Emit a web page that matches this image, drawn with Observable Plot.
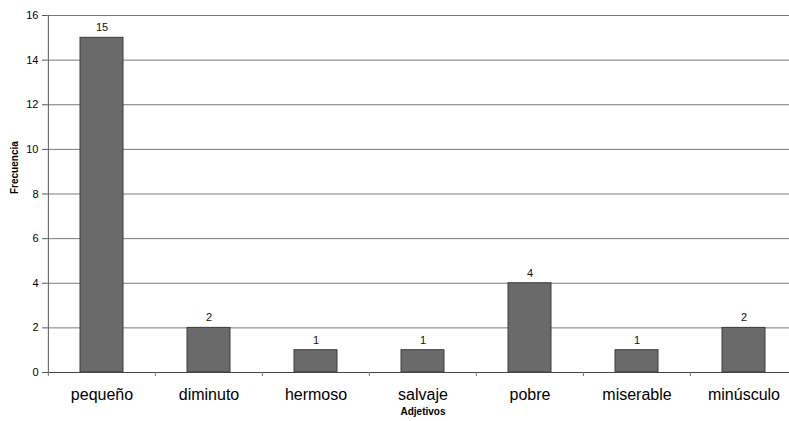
<!DOCTYPE html>
<html>
<head>
<meta charset="utf-8">
<script src="https://cdn.jsdelivr.net/npm/d3@7"></script>
<script src="https://cdn.jsdelivr.net/npm/@observablehq/plot@0.6"></script>
<style>
html,body{margin:0;padding:0;background:#fff;overflow:hidden;}
</style>
</head>
<body>
<div id="chart"></div>
<script>
const categories = ["pequeño","diminuto","hermoso","salvaje","pobre","miserable","minúsculo"];
const values = [15,2,1,1,4,1,2];
const yTicks = [0,2,4,6,8,10,12,14,16];
const xTitle = "Adjetivos";
const yTitle = "Frecuencia";

const data = categories.map((c,i)=>({cat:c, val:values[i]}));

const W = 789, H = 421, ML = 47, MR = -9, MT = 15, MB = 49;
const step = (W - MR - ML) / categories.length;

const chart = Plot.plot({
  width: W, height: H,
  marginLeft: ML, marginRight: MR, marginTop: MT, marginBottom: MB,
  style: {fontFamily: "Liberation Sans, Arial, sans-serif", background: "#fff", color: "#000"},
  x: {domain: categories, padding: 0, axis: null},
  y: {domain: [0,16], axis: null},
  marks: [
    Plot.gridY(yTicks, {stroke: "#7a7a7a", strokeOpacity: 1, strokeWidth: 1}),
    Plot.axisY(yTicks, {tickSize: 5, tickPadding: 4, fontSize: 11, label: null, stroke: "#555"}),
    Plot.axisX(categories, {tickSize: 0, tickPadding: 16, fontSize: 16, label: null}),
    Plot.barY(data, {x: "cat", y: "val", fill: "#6a6a6a", stroke: "#3c3c3c", strokeWidth: 1, insetLeft: 32, insetRight: 32}),
    Plot.text(data, {x: "cat", y: "val", text: d => String(d.val), dy: -10, fontSize: 11, fill: "#111"}),
    Plot.ruleY([0], {stroke: "#444", strokeWidth: 1}),
    Plot.ruleX([categories[0]], {x: d => d, dx: -step/2, stroke: "#555"}),
    Plot.ruleX(categories, {x: d => d, dx: -step/2, y1: 0, y2: 0, insetBottom: -4, stroke: "#777"}),
    Plot.text([xTitle], {frameAnchor: "bottom", dy: 42, text: d => d, fontSize: 10, fontWeight: "bold"}),
    Plot.text([yTitle], {frameAnchor: "left", dx: -33, rotate: -90, text: d => d, fontSize: 10, fontWeight: "bold"})
  ]
});
document.getElementById("chart").appendChild(chart);
</script>
</body>
</html>
